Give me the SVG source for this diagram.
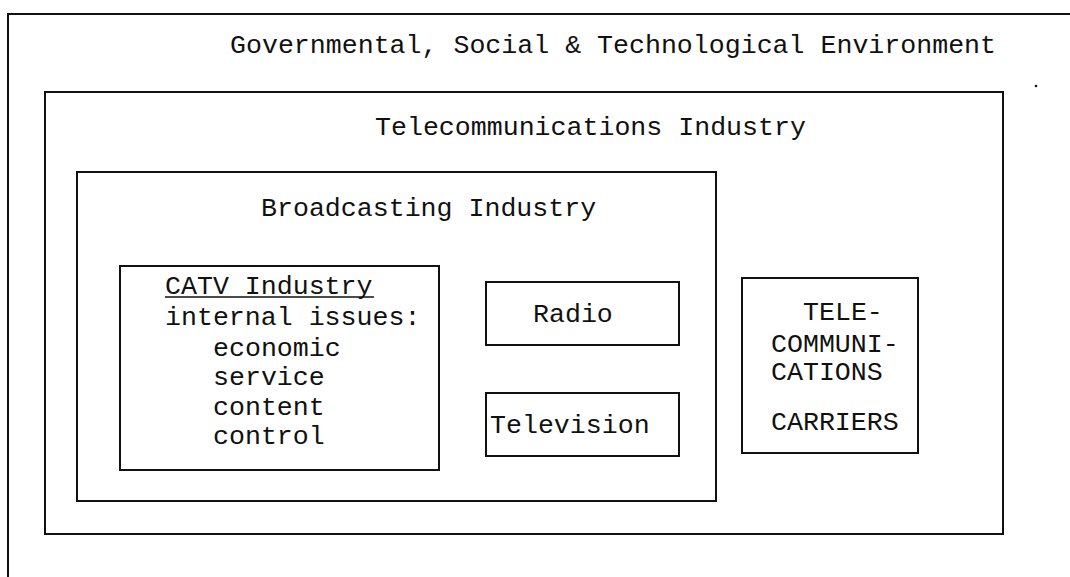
<svg xmlns="http://www.w3.org/2000/svg" width="1070" height="577" viewBox="0 0 1070 577">
  <style>
    .frame { fill: none; stroke: #111; stroke-width: 2; }
    .label { font-family: "Liberation Mono", "DejaVu Sans Mono", monospace; font-size: 26.6px; fill: #111; }
  </style>
  <rect x="0" y="0" width="1070" height="577" fill="#fff"/>

  <!-- Environment: open frame (top and left edges only) -->
  <g id="environment">
    <path class="frame" d="M8,577 V14 H1070"/>
    <text class="label" x="230" y="53">Governmental, Social &amp; Technological Environment</text>
    <circle cx="1036" cy="86" r="1.3" fill="#111"/>
  </g>

  <g id="telecom-industry">
    <rect class="frame" x="45" y="92" width="958" height="442"/>
    <text class="label" x="375" y="135">Telecommunications Industry</text>
  </g>

  <g id="broadcasting-industry">
    <rect class="frame" x="77" y="172" width="639" height="329"/>
    <text class="label" x="261" y="216">Broadcasting Industry</text>
  </g>

  <g id="catv-industry">
    <rect class="frame" x="120" y="266" width="319" height="204"/>
    <text class="label" x="165" y="294">CATV Industry</text>
    <line x1="165" y1="297" x2="374" y2="297" stroke="#111" stroke-width="1.6"/>
    <text class="label" x="165" y="325">internal issues:</text>
    <text class="label" x="213" y="356">economic</text>
    <text class="label" x="213" y="385">service</text>
    <text class="label" x="213" y="415">content</text>
    <text class="label" x="213" y="444">control</text>
  </g>

  <g id="radio">
    <rect class="frame" x="486" y="282" width="193" height="63"/>
    <text class="label" x="533" y="322">Radio</text>
  </g>

  <g id="television">
    <rect class="frame" x="486" y="393" width="193" height="63"/>
    <text class="label" x="490" y="433">Television</text>
  </g>

  <g id="telecom-carriers">
    <rect class="frame" x="742" y="278" width="176" height="175"/>
    <text class="label" x="803" y="320">TELE-</text>
    <text class="label" x="771" y="352">COMMUNI-</text>
    <text class="label" x="771" y="380">CATIONS</text>
    <text class="label" x="771" y="430">CARRIERS</text>
  </g>

  <!-- no connectors in this figure -->
  <g id="connectors"/>
</svg>
